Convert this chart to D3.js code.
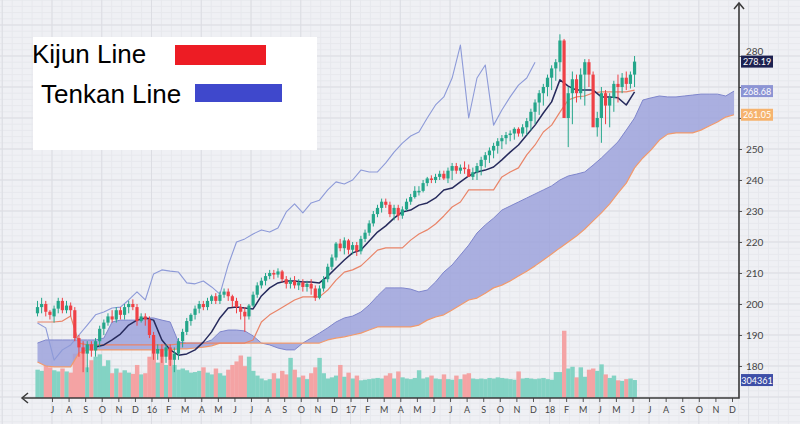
<!DOCTYPE html>
<html>
<head>
<meta charset="utf-8">
<script src="https://cdnjs.cloudflare.com/ajax/libs/d3/7.8.5/d3.min.js"></script>
<style>
  body { margin: 0; background: #eff0f4; }
  svg { display: block; }
</style>
</head>
<body>
<div id="chart"></div>
<script>
//Month labels along the time axis (first one is July 2015)
var monthLabels = ["J","A","S","O","N","D","16","F","M","A","M","J","J","A","S","O","N","D","17","F","M","A","M","J","J","A","S","O","N","D","18","F","M","J","M","J","J","A","S","O","N","D"];

//Weekly candles (week 0 = mid June 2015)
var candleOpen = [197,199,200,197.5,196,198.5,201,198,199.5,198,189,186,184,187,185,188,192,194,196,195,198,196.5,199,200,199,194.5,196,195,190,184,185.5,183,186,182,184,188,191,194.5,196.5,198.5,200,199,201,202.5,201,203,204,202.5,201,199,197.5,196,199.5,203,206,207.5,209,210,209.5,210.5,208,206.5,207.5,206,207,205.5,206.5,205,202,205,208,212,215,219.5,218,220.5,217.5,219,217,221,223,226,229,231,233,232,229,231,228.5,230.5,233,234.5,236,236.5,239,240.5,240,241,242,240.5,243,244.5,243,244,243.5,241,242.5,244.5,246.5,248,249.5,251,252.5,253.5,254.5,255,256.5,255,257,259,262,265,268,270,273,276,278,285,260,268,272.5,268,274,278,274,257,260,268,264,266.5,271,270,273,271,274];
var candleHigh = [201,202,201,198,199.5,202,202,201,200.5,199,190,188,188,188,189,193,195,197,198,199,199,200,201,201.5,200,197,197,196,191,187,187,187,187,186,189,192,195.5,197,199.5,201,201,202,203,203.5,204,205,205,203,202,200,199,200,204,207,208.5,210,211,211,211.5,211,209,208.5,209,208,208,207.5,208,206,206,209,213,216,220,221,221.5,221,220,220,222,224,227,230,232,234,234,233,232,232,231.5,234,235.5,238,238,240,241,241.5,242,243,243,244,245.5,245.5,245,246,245,244,245.5,247.5,249,250.5,252,253.5,254.5,255.5,256,257,257,258,260,263,266,269,271,274,277,279,287,285.5,270,275,274,276,279,279,275,262,270,269,268,272,274,274.5,275,275,280];
var candleLow = [196,197,196,195,194,197,197,197,196,188,183,178,178,183,183,186,190,193,194,194,195,195,197,198,193,194,193,189,182,182,181,181,180,178,182,186,190,193,195,197,198,198,200,200,200,202,201,199,197,195,191,195,199,202,205,206,208,208,208.5,207,205,205,205,204.5,204,204,203,201,201.5,204,207,211,214,217,216,216,216,215.5,216,220,222,225,228,229.5,231,228,227,227,227.5,230,232,234,235,236,238,239,239,240,240,239,240,242,242,242,242,240,240,241.5,244,245.5,247,248.5,250,251.5,252.5,253,254,254,254.5,256,258,261,264,267,269,272,275,277.5,250.6,258,265,266,264,270,272,254,252,258,257,262,265,268,269,269.5,270,273];
var candleClose = [199,200,197.5,196.5,198.5,201,198,199.5,198,189,186,184,187,185,188,192,194,196,195,198,196.5,199,200,199,194.5,196,195,190,184,185.5,183,186,182,184,188,191,194.5,196.5,198.5,200,199,201,202.5,201,203,204,202.5,201,199,197.5,196,199.5,203,206,207.5,209,210,209.5,210.5,208,206.5,207.5,206,207,205.5,206.5,205,202,205,208,212,215,219.5,218,220.5,217.5,219,217,221,223,226,229,231,233,232,229,231,228.5,230.5,233,234.5,236.5,236.5,239,240.5,240,241,242,240.5,243,244.5,243,244,243.5,241,242.5,244.5,246.5,248,249.5,251,252.5,253.5,254.5,255,256.5,255,257,259,262,265,268,270,273,276,278,285,260,268,272.5,268,274,278,274,257,260,268,264,266.5,271,270,273,271,274,278.19];

//Weekly volume, in thousands
var volume = [480,460,560,520,470,450,500,450,430,750,760,860,520,640,700,740,540,640,420,500,430,470,430,410,560,400,420,700,980,600,900,560,820,560,480,500,470,430,440,460,520,430,400,500,420,380,480,560,620,720,540,700,460,380,330,300,320,420,330,460,400,680,480,350,380,320,420,520,680,420,330,350,380,560,360,430,330,380,300,310,320,330,340,330,380,420,330,450,350,330,320,340,470,330,350,380,330,320,400,320,310,380,320,400,420,330,320,330,320,340,330,350,340,330,320,310,450,330,340,330,320,330,340,320,310,440,440,1140,500,530,350,520,360,480,500,460,570,400,340,380,300,290,320,330,304.361];

//Ichimoku lines, one value every two weeks
var tenkanLine = [null,null,null,null,null,null,null,186.1,186.8,188.4,190.3,193.2,194.8,195.5,194.8,188.4,185.2,183.5,183.9,185.2,187.7,191,195.5,198.7,199,198.7,198.4,202.6,205.2,206.8,207.4,207.4,207.1,207.1,206.8,209,211.6,214.2,216.5,217.4,220.3,223.2,225.2,227.7,229.7,230.3,231.9,232.6,234.2,236.8,237.4,239.4,241.3,242.6,243.2,244.2,246.5,249,251.3,254.5,257.7,261.6,265.2,272.3,270.3,269,269,269,266.8,266.8,266.5,264.2,268.4];
var kijunLine = [194.2,194.2,194.2,194.5,196.1,187.4,186.8,186.8,186.8,186.8,186.8,186.8,186.8,186.8,186.8,186.8,186.8,187.1,187.4,187.4,187.4,187.4,187.4,187.4,187.4,187.4,188.4,194.2,196.5,198.1,199.7,201.3,202.3,202.3,202.3,204.5,207.7,210.3,211,212.3,214.8,217.4,218.1,218.1,218.1,220.6,222.6,223.9,225.8,228.4,231.3,232.9,236.8,236.8,236.8,236.8,241,242.6,243.9,248.1,251.3,255.5,257.7,261.9,265.8,266.8,267.1,268.1,268.4,268.4,268.4,268.4,269];
var senkouA = [187.4,188.4,188.4,188.4,188.4,188.4,188.4,188.4,189,194.2,194.8,194.8,194.8,195.5,195.5,194.8,194.2,187.7,187.4,187.4,187.4,188.4,191,191.6,191.6,191.3,189.7,187.4,186.8,185.8,185.2,185.2,187.4,189,190.6,192.3,194.2,195.5,196.1,197.4,199.7,202.6,205.2,205.2,205.2,204.8,203.9,204.5,207.1,210.3,212.6,215.8,219,222.9,225.5,227.7,230.3,231.6,232.9,234.2,235.5,236.8,238.1,240,241.3,241.9,242.6,244.8,247.1,249.7,252.3,256.1,260,265.8,266.5,267.1,266.8,266.8,267.1,267.4,267.7,267.7,267.7,267.1,268.68];
var senkouB = [181.3,180,179.7,179.7,179.7,184.2,185.2,185.2,185.2,185.2,185.2,185.2,185.2,185.2,185.2,185.2,185.2,185.5,185.5,185.8,186.1,186.5,187.4,187.4,187.4,187.4,187.4,187.4,187.4,187.4,187.4,187.4,187.4,187.4,187.4,188.4,189,189.4,190,190.6,191.6,192.6,192.6,192.6,192.6,192.6,193.2,194.8,195.8,196.5,198.1,199.7,201.3,201.9,203.5,205.2,206.1,207.4,209,210.6,212.3,214.2,216.1,218.1,220,221.9,224.2,226.8,229.4,232.3,235.8,239,243.9,247.1,249.7,252.9,254.8,255.2,255.2,255.2,256.1,257.4,258.7,260.3,261.05];
var chikouLine = [193.9,192.3,181.9,185.2,186.8,190,193.2,196.5,197.4,198.7,199,201.3,203.9,201.3,209.7,211,210.6,210.3,206.8,206.5,207.4,205.5,203.2,212.6,220,221,222.6,223.9,223.2,224.5,229.7,232.3,229.4,232.6,233.5,236.8,239.4,238.7,240,243.2,242.6,242.6,245.5,249,251.9,254.2,255.5,260,264.2,266.8,272.9,283.5,260,272.9,277.1,257.7,262.6,266.8,270.6,272.9,278];

//Price ticks and legend entries
var priceTicks = [180,190,200,210,220,230,240,250,260,270,280];
var legendItems = [{name: "Kijun Line", color: "#ed1c24"}, {name: "Tenkan Line", color: "#3f48cc"}];

//Canvas dimensions and plot frame
var width = 800,
    height = 424;

var frame = {
    top: 3,
    bottom: 398,
    left: 22,
    right: 739
}

var upColor = "#24a68a",
    downColor = "#ef4146",
    volUp = "#83d3c4",
    volDown = "#f4a3a4";

//Scales: months on x, price on y, volume at the bottom
var x = d3.scaleLinear().domain([0, monthLabels.length - 1]).range([52, 732]);
var y = d3.scaleLinear().domain([180, 280]).range([366, 56]);
var yVol = d3.scaleLinear().domain([0, 1000]).range([frame.bottom, 339]);

function weekX(w) { return x(-0.875 + w / 4); }
function lineX(d, k) { return weekX(2 * k); }

var svg = d3.select("#chart")
            .append("svg")
            .attr("width", width)
            .attr("height", height);

//Background grid
var grid = svg.append("g").attr("class", "grid");
grid.selectAll(".vminor")
    .data(d3.range(-6, 45, 0.6))
    .enter().append("line")
    .attr("x1", function(d) { return x(d); })
    .attr("x2", function(d) { return x(d); })
    .attr("y1", 0).attr("y2", height)
    .attr("stroke", "#e7e8ed").attr("stroke-width", 1);
grid.selectAll(".hminor")
    .data(d3.range(130, 320, 2))
    .enter().append("line")
    .attr("y1", function(d) { return y(d); })
    .attr("y2", function(d) { return y(d); })
    .attr("x1", 0).attr("x2", width)
    .attr("stroke", "#e7e8ed").attr("stroke-width", 1);
grid.selectAll(".vmajor")
    .data(d3.range(-3, 45, 3))
    .enter().append("line")
    .attr("x1", function(d) { return x(d); })
    .attr("x2", function(d) { return x(d); })
    .attr("y1", 0).attr("y2", height)
    .attr("stroke", "#dcdde3").attr("stroke-width", 1);
grid.selectAll(".hmajor")
    .data(d3.range(130, 320, 10))
    .enter().append("line")
    .attr("y1", function(d) { return y(d); })
    .attr("y2", function(d) { return y(d); })
    .attr("x1", 0).attr("x2", width)
    .attr("stroke", "#dcdde3").attr("stroke-width", 1);

//Clip everything to the plot frame
svg.append("clipPath").attr("id", "plotClip")
   .append("rect")
   .attr("x", frame.left).attr("y", frame.top)
   .attr("width", frame.right - frame.left)
   .attr("height", frame.bottom - frame.top);

var plot = svg.append("g").attr("clip-path", "url(#plotClip)");

var barW = weekX(1) - weekX(0);

//Volume bars
plot.append("g").selectAll("rect")
    .data(volume)
    .enter().append("rect")
    .attr("x", function(d, i) { return weekX(i) - barW / 2; })
    .attr("y", function(d) { return yVol(d); })
    .attr("width", barW + 0.3)
    .attr("height", function(d) { return frame.bottom - yVol(d); })
    .attr("fill", function(d, i) { return candleClose[i] >= candleOpen[i] ? volUp : volDown; });

//Ichimoku cloud between the two senkou spans
var cloud = d3.area()
    .x(lineX)
    .y0(function(d, k) { return y(senkouB[k]); })
    .y1(function(d, k) { return y(senkouA[k]); });

plot.append("path")
    .datum(senkouA)
    .attr("d", cloud)
    .attr("fill", "#9ea3dc")
    .attr("fill-opacity", 0.85);

function drawLine(values, color, w) {
    var line = d3.line()
        .defined(function(d) { return d != null; })
        .x(lineX)
        .y(function(d) { return y(d); });
    plot.append("path")
        .datum(values)
        .attr("d", line)
        .attr("fill", "none")
        .attr("stroke", color)
        .attr("stroke-width", w)
        .attr("stroke-linejoin", "round");
}

drawLine(senkouA, "#7f86cc", 1);
drawLine(senkouB, "#f29a6c", 1.2);
drawLine(chikouLine, "#8d9ad8", 1.1);
drawLine(kijunLine, "#e98468", 1.2);
drawLine(tenkanLine, "#262a5c", 1.5);

//Candles
var candles = plot.append("g").selectAll("g")
    .data(candleClose)
    .enter().append("g");

candles.append("line")
    .attr("x1", function(d, i) { return weekX(i); })
    .attr("x2", function(d, i) { return weekX(i); })
    .attr("y1", function(d, i) { return y(candleHigh[i]); })
    .attr("y2", function(d, i) { return y(candleLow[i]); })
    .attr("stroke", function(d, i) { return d >= candleOpen[i] ? upColor : downColor; })
    .attr("stroke-width", 1);

candles.append("rect")
    .attr("x", function(d, i) { return weekX(i) - 1.6; })
    .attr("width", 3.2)
    .attr("y", function(d, i) { return y(Math.max(d, candleOpen[i])); })
    .attr("height", function(d, i) { return Math.max(1, Math.abs(y(d) - y(candleOpen[i]))); })
    .attr("fill", function(d, i) { return d >= candleOpen[i] ? upColor : downColor; });

//Last value tags on the price axis
var lastTags = [
    {value: candleClose[candleClose.length - 1], text: d3.format(".2f")(candleClose[candleClose.length - 1]), color: "#1d2150", yPos: y},
    {value: senkouA[senkouA.length - 1], text: d3.format(".2f")(senkouA[senkouA.length - 1]), color: "#8c94d4", yPos: y},
    {value: senkouB[senkouB.length - 1], text: d3.format(".2f")(senkouB[senkouB.length - 1]), color: "#f6b36e", yPos: y},
    {value: volume[volume.length - 1], text: d3.format("d")(Math.round(volume[volume.length - 1] * 1000)), color: "#3e4fa7", yPos: yVol}
];

//Distance from a price tick to the nearest price tag
function tagGap(p) {
    return d3.min(lastTags.filter(function(t) { return t.yPos === y; }),
                  function(t) { return y(p) - y(t.value); });
}
function nearestTag(p) {
    var best = null;
    lastTags.forEach(function(t) {
        if (t.yPos !== y) return;
        var g = y(p) - y(t.value);
        if (best === null || Math.abs(g) < Math.abs(best)) best = g;
    });
    return best;
}

//Price axis on the right (labels under a tag are hidden, labels next to one are pushed clear)
var yAxis = svg.append("g")
    .attr("transform", "translate(" + frame.right + ",0)")
    .call(d3.axisRight(y).tickValues(priceTicks).tickSize(3).tickPadding(4)
            .tickFormat(function(p) { return Math.abs(nearestTag(p)) < 5 ? "" : p; }));
yAxis.select(".domain").remove();
yAxis.selectAll("text")
     .attr("font-family", "Lato, 'Open Sans', sans-serif")
     .attr("font-size", 10)
     .attr("fill", "#444")
     .attr("y", function(p) {
         var g = nearestTag(p);
         return Math.abs(g) < 10 ? (g < 0 ? -(10 + g) : 10 - g) : 0;
     });
yAxis.selectAll("line").attr("stroke", "#555");

//Time axis at the bottom
var xAxis = svg.append("g")
    .attr("transform", "translate(0," + frame.bottom + ")")
    .call(d3.axisBottom(x).tickValues(d3.range(monthLabels.length))
            .tickFormat(function(i) { return monthLabels[i]; })
            .tickSize(4).tickPadding(5));
xAxis.select(".domain").remove();
xAxis.selectAll("text")
     .attr("font-family", "Lato, 'Open Sans', sans-serif")
     .attr("font-size", 9)
     .attr("fill", "#444");
xAxis.selectAll("line").attr("stroke", "#555");

//Axis lines with arrow heads
svg.append("path")
   .attr("d", "M" + frame.right + "," + frame.top + "V" + frame.bottom + "H" + frame.left)
   .attr("fill", "none").attr("stroke", "#3a3a3a").attr("stroke-width", 1.6);
svg.append("path")
   .attr("d", "M" + (frame.right - 5) + "," + (frame.top + 6) + "L" + frame.right + "," + frame.top + "L" + (frame.right + 5) + "," + (frame.top + 6))
   .attr("fill", "none").attr("stroke", "#3a3a3a").attr("stroke-width", 1.5);
svg.append("path")
   .attr("d", "M" + (frame.left + 6) + "," + (frame.bottom - 5) + "L" + frame.left + "," + frame.bottom + "L" + (frame.left + 6) + "," + (frame.bottom + 5))
   .attr("fill", "none").attr("stroke", "#3a3a3a").attr("stroke-width", 1.5);

var tags = svg.append("g").selectAll("g")
    .data(lastTags)
    .enter().append("g")
    .attr("transform", function(d) { return "translate(" + (frame.right + 2) + "," + d.yPos(d.value) + ")"; });

tags.append("rect")
    .attr("x", 0).attr("y", -6)
    .attr("width", 32).attr("height", 12)
    .attr("fill", function(d) { return d.color; });

tags.append("text")
    .attr("x", 16).attr("y", 3.5)
    .attr("text-anchor", "middle")
    .attr("font-family", "Lato, 'Open Sans', sans-serif")
    .attr("font-size", 9)
    .attr("fill", "#fff")
    .text(function(d) { return d.text; });

//Legend box
var legend = svg.append("g");
legend.append("rect")
      .attr("x", 33).attr("y", 37)
      .attr("width", 284).attr("height", 113)
      .attr("fill", "#fff");

var legendRows = legend.selectAll(".row")
      .data(legendItems)
      .enter().append("g");

legendRows.append("text")
      .attr("x", function(d, i) { return i == 0 ? 32 : 41; })
      .attr("y", function(d, i) { return 63 + i * 40; })
      .attr("font-family", "'Liberation Sans', Arial, sans-serif")
      .attr("font-size", 26)
      .attr("fill", "#000")
      .text(function(d) { return d.name; });

legendRows.append("rect")
      .attr("x", function(d, i) { return i == 0 ? 175 : 195; })
      .attr("y", function(d, i) { return i == 0 ? 45 : 84; })
      .attr("width", function(d, i) { return i == 0 ? 91 : 87; })
      .attr("height", function(d, i) { return i == 0 ? 20 : 18; })
      .attr("fill", function(d) { return d.color; });
</script>
</body>
</html>
